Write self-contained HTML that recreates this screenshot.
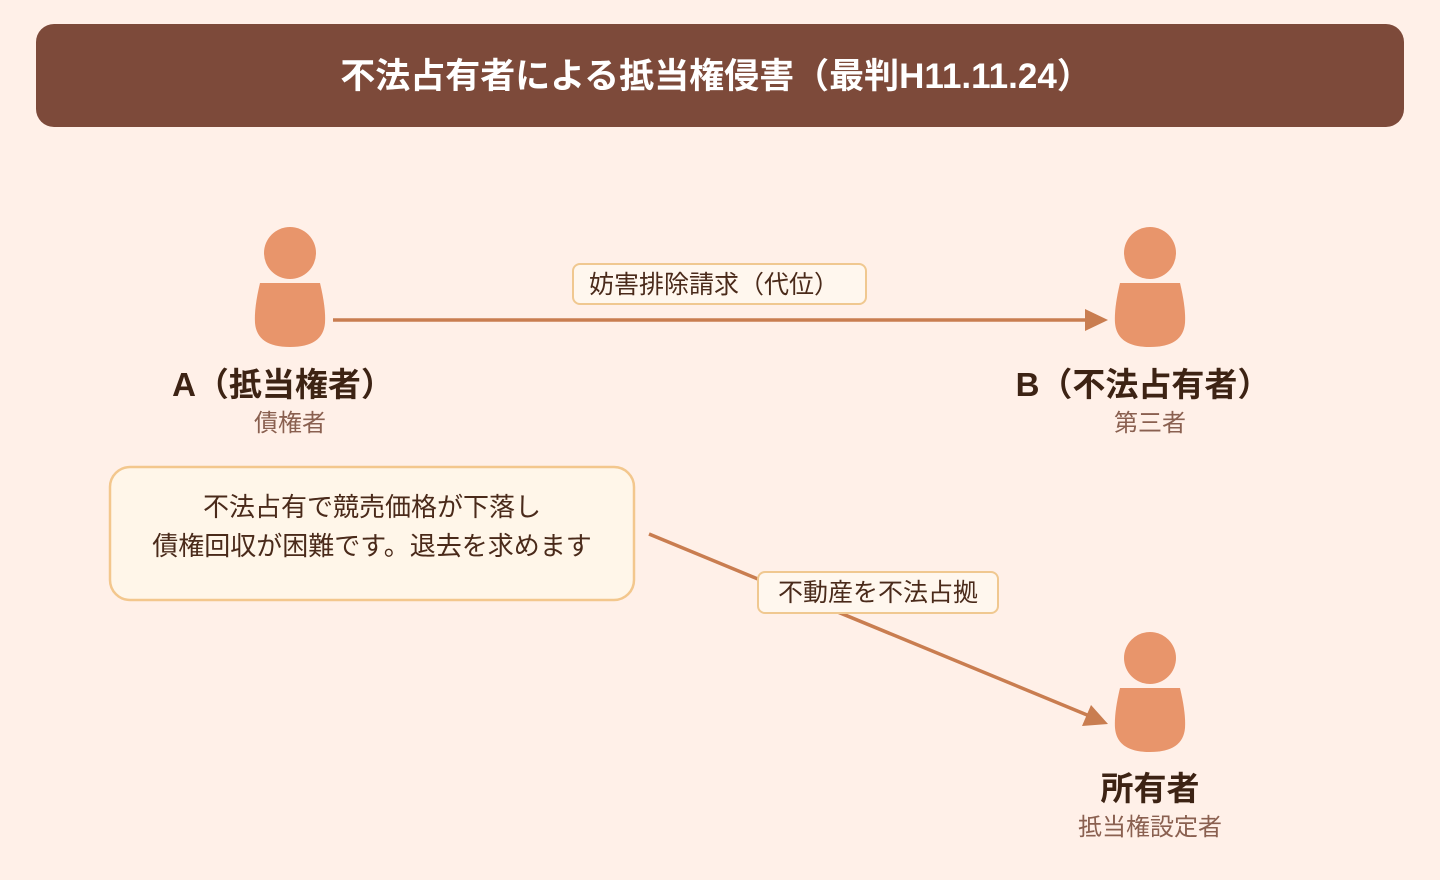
<!DOCTYPE html>
<html><head><meta charset="utf-8"><style>
body{margin:0;background:#fff0e8;}
svg{display:block;font-family:"Liberation Sans","Noto Sans CJK JP",sans-serif;}
</style></head><body>
<svg width="1440" height="880" viewBox="0 0 1440 880">
<rect width="1440" height="880" fill="#fff0e8"/>
<rect x="36" y="24" width="1368" height="103" rx="18" fill="#7d4a3a"/>
<text x="716" y="88" text-anchor="middle" font-size="35" font-weight="bold" fill="#fff">不法占有者による抵当権侵害（最判H11.11.24）</text>
<defs>
<g id="p"><circle cx="0" cy="0" r="26" fill="#e8956b"/>
<path d="M-30 30 H30 Q36 55 35 70 Q33 94 0 94 Q-33 94 -35 70 Q-36 55 -30 30 Z" fill="#e8956b"/></g>
</defs>
<use href="#p" x="290" y="253"/>
<use href="#p" x="1150" y="253"/>
<use href="#p" x="1150" y="658"/>
<line x1="333" y1="320" x2="1090" y2="320" stroke="#c97d50" stroke-width="3.5"/>
<polygon points="1108,320 1085,309 1085,331" fill="#c97d50"/>
<rect x="573" y="264" width="293" height="40" rx="7" fill="#fff7ee" stroke="#f0c890" stroke-width="2"/>
<text x="714" y="293" text-anchor="middle" font-size="25" fill="#4a2a1a">妨害排除請求（代位）</text>
<line x1="649" y1="534" x2="1092" y2="717" stroke="#c97d50" stroke-width="3.5"/>
<polygon points="1108,724 1082,726 1091,705" fill="#c97d50"/>
<rect x="758" y="572" width="240" height="41" rx="7" fill="#fff7ee" stroke="#f0c890" stroke-width="2"/>
<text x="878" y="601" text-anchor="middle" font-size="25" fill="#4a2a1a">不動産を不法占拠</text>
<rect x="110" y="467" width="524" height="133" rx="20" fill="#fff6e9" stroke="#f3c78d" stroke-width="2.5"/>
<text x="372" y="516" text-anchor="middle" font-size="26" fill="#4a2a1a">不法占有で競売価格が下落し</text>
<text x="372" y="555" text-anchor="middle" font-size="26" fill="#4a2a1a">債権回収が困難です。退去を求めます</text>
<g text-anchor="middle">
<text x="283" y="396" font-size="33" font-weight="bold" fill="#3d2314">A（抵当権者）</text>
<text x="290" y="431" font-size="24" fill="#8a6050">債権者</text>
<text x="1143" y="396" font-size="33" font-weight="bold" fill="#3d2314">B（不法占有者）</text>
<text x="1150" y="431" font-size="24" fill="#8a6050">第三者</text>
<text x="1150" y="800" font-size="33" font-weight="bold" fill="#3d2314">所有者</text>
<text x="1150" y="835" font-size="24" fill="#8a6050">抵当権設定者</text>
</g>
</svg>
</body></html>
